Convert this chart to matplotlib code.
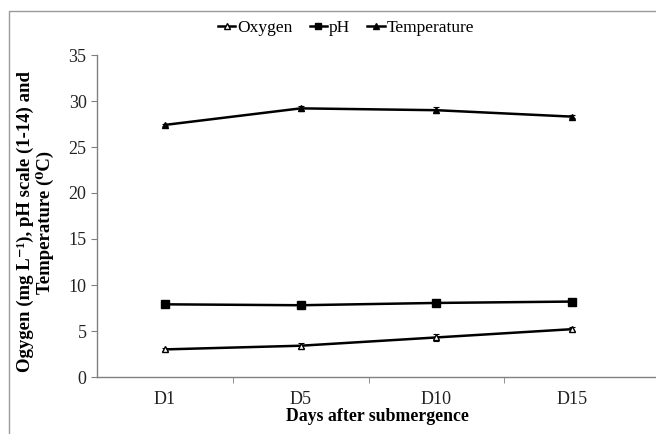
import matplotlib.pyplot as plt
from matplotlib.lines import Line2D
from matplotlib.patches import Rectangle

plt.rcParams["font.family"] = ["Liberation Serif", "DejaVu Serif"]

days = ["D1", "D5", "D10", "D15"]
oxygen = [3.0, 3.4, 4.3, 5.2]
oxygen_err = [0.15, 0.25, 0.35, 0.2]
ph = [7.9, 7.8, 8.05, 8.2]
ph_err = [0.1, 0.1, 0.1, 0.1]
temperature = [27.4, 29.2, 29.0, 28.3]
temperature_err = [0.15, 0.3, 0.35, 0.15]

fig = plt.figure(figsize=(6.56, 4.34), dpi=100)
ax = fig.add_axes([97 / 656, 1 - 377 / 434, 560 / 656, 322 / 434])

# chart area border (left and top only visible)
fig.patches.append(Rectangle((9 / 656, -0.1), 1.2, 1 - 11 / 434 + 0.1,
                             transform=fig.transFigure, fill=False,
                             edgecolor="#9a9a9a", lw=1.0))

x = list(range(len(days)))
kw = dict(color="black", lw=1.8, capsize=2, elinewidth=0.8, capthick=0.8)
ax.errorbar(x, oxygen, yerr=oxygen_err, marker="^", ms=5, mfc="white",
            mec="black", **kw)
ax.errorbar(x, ph, yerr=ph_err, marker="s", ms=6, mfc="black",
            mec="black", **kw)
ax.errorbar(x, temperature, yerr=temperature_err, marker="^", ms=5,
            mfc="black", mec="black", **kw)

ax.set_xlim(-0.5, 3.5 + 17 / 136.5)
ax.set_ylim(0, 35)
ax.set_yticks(range(0, 36, 5))
ax.set_xticks(x)
ax.set_xticklabels(days)
ax.set_xticks([0.5, 1.5, 2.5], minor=True)
ax.tick_params(axis="x", which="major", length=0, pad=10, labelsize=13,
               labelcolor="#222222")
ax.tick_params(axis="x", which="minor", length=4, color="#808080",
               direction="out")
ax.tick_params(axis="y", length=4, color="#808080", direction="out",
               labelsize=13, labelcolor="#222222")
for side in ("top", "right"):
    ax.spines[side].set_visible(False)
for side in ("left", "bottom"):
    ax.spines[side].set_color("#808080")
    ax.spines[side].set_linewidth(1.0)

ax.set_xlabel("Days after submergence", fontsize=12.8, fontweight="bold",
              labelpad=0)
fig.text(35 / 656, 1 - 222 / 434,
         "Ogygen (mg L\u207b\u00b9), pH scale (1-14) and\n"
         "Temperature (\u2070C)",
         rotation=90, ha="center", va="center", fontsize=13.5,
         fontweight="bold", linespacing=1.12)

handles = [
    Line2D([], [], color="black", lw=1.8, marker="^", ms=4, mfc="white", mec="black"),
    Line2D([], [], color="black", lw=1.8, marker="s", ms=5, mfc="black", mec="black"),
    Line2D([], [], color="black", lw=1.8, marker="^", ms=4, mfc="black", mec="black"),
]
labels = ["Oxygen", "pH", "Temperature"]
fig.legend(handles, labels, loc="center", bbox_to_anchor=(346 / 656, 1 - 28 / 434),
           ncol=3, frameon=False, fontsize=12.5, handlelength=1.0,
           handletextpad=0.1, columnspacing=1.0)

fig.savefig("out.png", dpi=100)
